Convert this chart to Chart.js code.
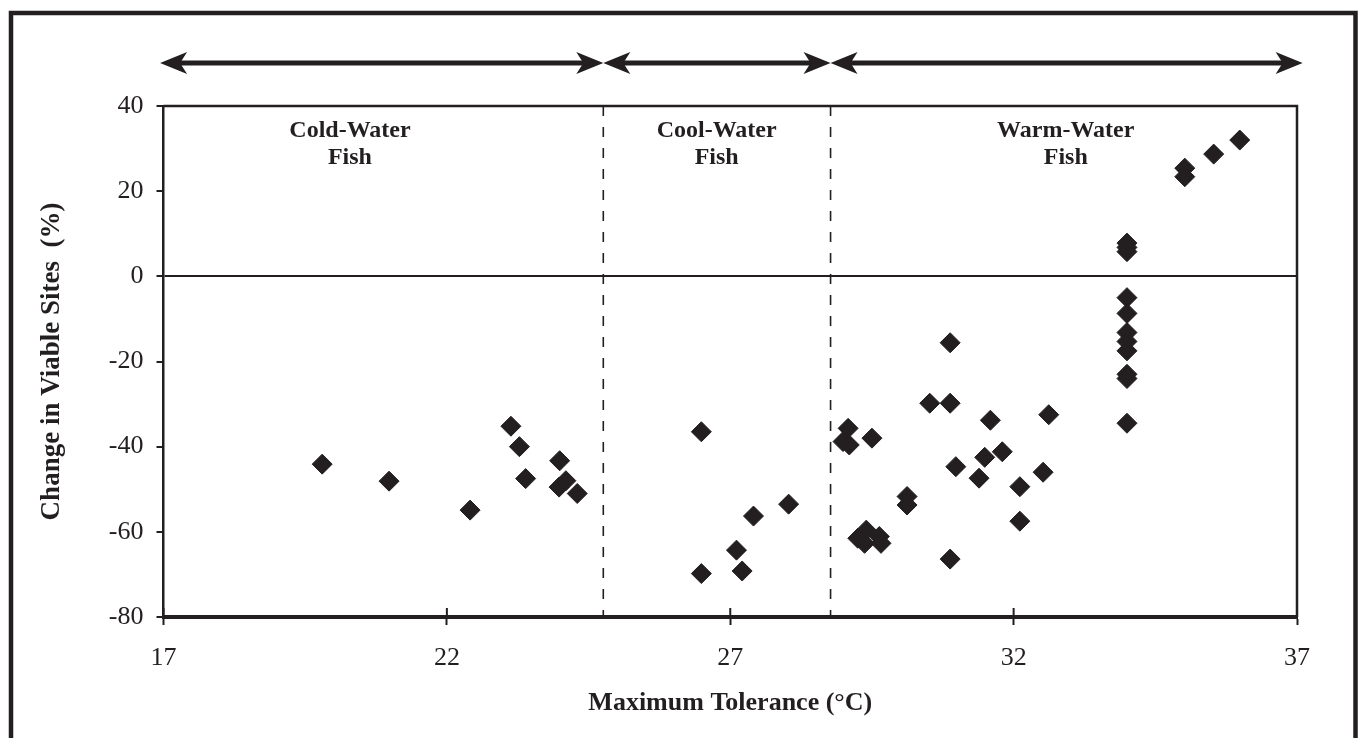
<!DOCTYPE html>
<html><head><meta charset="utf-8">
<script src="https://cdn.jsdelivr.net/npm/chart.js@4.4.0/dist/chart.umd.min.js"></script>
<style>html,body{margin:0;padding:0;background:#fff;}canvas{display:block;}</style>
</head><body>
<canvas id="c" width="1358" height="738"></canvas>
<script>
// ---- data ----
const maxTolerance = [
  19.80, 20.98, 22.41, 23.13, 23.28, 23.39, 23.99, 23.98, 24.10, 24.30,
  26.49, 26.49, 27.11, 27.21, 27.41, 28.03,
  29.08, 28.99, 29.10, 29.50, 29.40, 29.25, 29.37, 29.63, 29.66,
  30.12, 30.12, 30.52, 30.88, 30.88, 30.98, 30.88,
  31.39, 31.49, 31.59, 31.80, 32.11, 32.11, 32.52, 32.62,
  34.0, 34.0, 34.0, 34.0, 34.0, 34.0, 34.0, 34.0, 34.0, 34.0, 34.0,
  35.02, 35.02, 35.53, 35.99
];
const changeInViableSites = [
  -44.1, -48.1, -54.9, -35.2, -40.0, -47.5, -43.3, -49.5, -48.0, -51.0,
  -36.5, -69.8, -64.3, -69.2, -56.3, -53.5,
  -35.7, -38.8, -39.6, -38.0, -59.6, -61.5, -62.7, -61.1, -62.7,
  -51.7, -53.7, -29.8, -29.8, -15.6, -44.7, -66.4,
  -47.4, -42.5, -33.8, -41.2, -49.4, -57.5, -46.0, -32.5,
  7.8, 6.8, 5.8, -5.0, -8.7, -13.2, -15.3, -17.5, -23.0, -24.0, -34.5,
  25.4, 23.4, 28.7, 32.0
];
const xTickValues = [17, 22, 27, 32, 37];
const yTickValues = [-80, -60, -40, -20, 0, 20, 40];
const groupNames = [['Cold-Water', 'Fish'], ['Cool-Water', 'Fish'], ['Warm-Water', 'Fish']];
const groupBounds = [24.76, 28.77];
const xTitle = 'Maximum Tolerance (\u00B0C)';
const yTitle = 'Change in Viable Sites  (%)';

// ---- drawing ----
const INK = '#231f20';
const FONT = '"Liberation Serif", "Times New Roman", serif';

function arrowHead(ctx, tipX, y, dir) {
  const L = 27, H = 11, N = 20;
  ctx.beginPath();
  ctx.moveTo(tipX, y);
  ctx.lineTo(tipX - dir * L, y - H);
  ctx.lineTo(tipX - dir * N, y);
  ctx.lineTo(tipX - dir * L, y + H);
  ctx.closePath();
  ctx.fill();
}

const decor = {
  id: 'decor',
  beforeDatasetsDraw(chart) {
    const {ctx, chartArea: a, scales: {x}} = chart;
    ctx.save();
    ctx.strokeStyle = INK;
    ctx.lineWidth = 2.5;
    ctx.beginPath();
    ctx.moveTo(a.left, a.top); ctx.lineTo(a.right, a.top); ctx.lineTo(a.right, a.bottom);
    ctx.stroke();
    ctx.lineWidth = 2;
    x.ticks.forEach(t => {
      const px = x.getPixelForValue(t.value);
      ctx.beginPath(); ctx.moveTo(px, a.bottom); ctx.lineTo(px, a.bottom - 9); ctx.stroke();
    });
    ctx.setLineDash([10, 11]);
    ctx.lineWidth = 1.6;
    groupBounds.forEach(v => {
      const px = x.getPixelForValue(v);
      ctx.beginPath(); ctx.moveTo(px, a.top); ctx.lineTo(px, a.bottom); ctx.stroke();
    });
    ctx.restore();
  },
  afterDraw(chart) {
    const {ctx, chartArea: a, scales: {x}} = chart;
    ctx.save();
    ctx.strokeStyle = INK;
    ctx.lineWidth = 4.5;
    ctx.strokeRect(11, 13, 1344.5, 740);
    const ay = a.top - 43;
    const stops = [x.min - 0.06, groupBounds[0], groupBounds[1], x.max + 0.1].map(v => x.getPixelForValue(v));
    ctx.fillStyle = INK;
    ctx.lineWidth = 5;
    for (let i = 0; i < 3; i++) {
      const l = stops[i], r = stops[i + 1];
      ctx.beginPath(); ctx.moveTo(l + 15, ay); ctx.lineTo(r - 15, ay); ctx.stroke();
      arrowHead(ctx, l, ay, -1);
      arrowHead(ctx, r, ay, 1);
    }
    ctx.font = 'bold 24px ' + FONT;
    ctx.textAlign = 'center';
    ctx.textBaseline = 'middle';
    const centers = [20.29, 26.76, 32.92];
    groupNames.forEach((lines, i) => {
      const cx = x.getPixelForValue(centers[i]);
      lines.forEach((t, j) => ctx.fillText(t, cx, a.top + 25 + j * 27));
    });
    ctx.restore();
  }
};

new Chart(document.getElementById('c'), {
  type: 'scatter',
  data: {
    datasets: [{
      data: maxTolerance.map((v, i) => ({x: v, y: changeInViableSites[i]})),
      pointStyle: 'rectRot',
      pointRadius: 10,
      pointHoverRadius: 10,
      backgroundColor: INK,
      borderColor: INK,
      borderWidth: 1
    }]
  },
  options: {
    responsive: false,
    animation: false,
    devicePixelRatio: 1,
    layout: {padding: {top: 106, right: 61, left: 30, bottom: 0}},
    plugins: {legend: {display: false}, tooltip: {enabled: false}},
    scales: {
      x: {
        type: 'linear', min: 17, max: 37,
        afterBuildTicks: s => { s.ticks = xTickValues.map(v => ({value: v})); },
        afterFit: s => { s.height = 121; },
        grid: {drawOnChartArea: false, drawTicks: true, tickLength: 8, tickColor: INK, tickWidth: 2},
        border: {display: true, color: INK, width: 4},
        ticks: {color: INK, font: {family: FONT, size: 26}, padding: 18},
        title: {display: true, text: xTitle, color: INK, font: {family: FONT, size: 26, weight: 'bold'}, padding: {top: 0, bottom: 19}}
      },
      y: {
        type: 'linear', min: -80, max: 40,
        afterBuildTicks: s => { s.ticks = yTickValues.map(v => ({value: v})); },
        afterFit: s => { s.width = 133.5; },
        grid: {
          drawOnChartArea: true, drawTicks: true, tickLength: 7, tickColor: INK, tickWidth: 2,
          color: c => (c.tick && c.tick.value === 0) ? INK : 'rgba(0,0,0,0)',
          lineWidth: 2
        },
        border: {display: true, color: INK, width: 2.5},
        ticks: {color: INK, font: {family: FONT, size: 26}, padding: 13},
        title: {display: true, text: yTitle, color: INK, font: {family: FONT, size: 27, weight: 'bold'}, padding: {top: 6, bottom: 0}}
      }
    }
  },
  plugins: [decor]
});
</script>
</body></html>
